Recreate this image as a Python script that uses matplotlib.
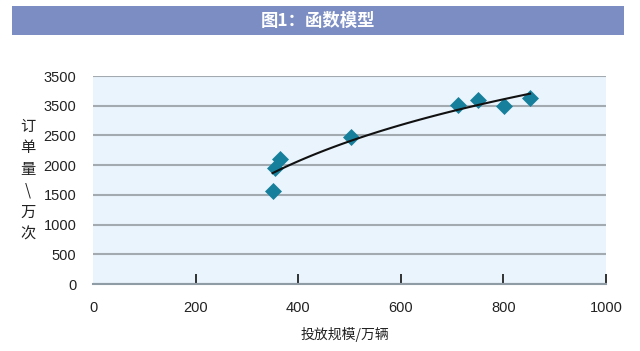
import numpy as np
import matplotlib
matplotlib.use('Agg')
import matplotlib.pyplot as plt
from matplotlib.patches import Rectangle

plt.rcParams['font.family'] = ['Noto Sans CJK SC', 'DejaVu Sans']

# 数据
scale = [350, 355, 364, 503, 712, 751, 801, 852]
orders = [1570, 1950, 2110, 2470, 3010, 3100, 3000, 3135]
y_ticks = [0, 500, 1000, 1500, 2000, 2500, 3000, 3500]
y_tick_labels = ['0', '500', '1000', '1500', '2000', '2500', '3500', '3500']
x_ticks = [0, 200, 400, 600, 800, 1000]

fig = plt.figure(figsize=(6.4, 3.51), dpi=100)

# 标题栏
fig.patches.append(Rectangle((12 / 640, 1 - 35 / 351), 612 / 640, 29 / 351,
                             transform=fig.transFigure, facecolor='#7b8dc3',
                             edgecolor='none'))
fig.text(318 / 640, 1 - 20.5 / 351, '图1：函数模型', color='white', fontsize=12.5,
         fontweight='bold', ha='center', va='center')

ax = fig.add_axes([93 / 640, 1 - 284 / 351, 513 / 640, 208 / 351])
ax.set_facecolor('#e9f4fc')
ax.set_xlim(0, 1000)
ax.set_ylim(0, 3500)

for s in ['top', 'right', 'left']:
    ax.spines[s].set_visible(False)
ax.spines['bottom'].set_color('#8f9ca6')
ax.spines['bottom'].set_linewidth(1.5)

ax.set_yticks(y_ticks)
ax.set_yticklabels(y_tick_labels, family='Liberation Sans', fontsize=10.5, color='#222222')
ax.set_xticks(x_ticks)
ax.set_xticklabels([str(v) for v in x_ticks], family='Liberation Sans', fontsize=10.5,
                   color='#222222')
ax.tick_params(axis='y', length=0, pad=12)
ax.tick_params(axis='x', direction='in', length=7, width=1.3, color='#222222', pad=12)
ax.xaxis.get_major_ticks()[0].tick1line.set_visible(False)

ax.grid(axis='y', color='#a3abb1', linewidth=1.5)
ax.set_axisbelow(True)

# 对数趋势线
a, b = np.polyfit(np.log(scale), orders, 1)
xs = np.linspace(min(scale), max(scale), 100)
ax.plot(xs, a * np.log(xs) + b, color='#111111', linewidth=1.5, zorder=3)

ax.scatter(scale, orders, marker='D', s=75, color='#16809c', zorder=2, linewidths=0)

fig.text(28 / 640, 1 - 180 / 351, '订\n单\n量\n\\\n万\n次', fontsize=11,
         ha='center', va='center', linespacing=1.35, color='#222222')
fig.text(345 / 640, 1 - 335 / 351, '投放规模/万辆', fontsize=10, ha='center',
         va='center', color='#222222')

plt.savefig('out.png', dpi=100)
plt.close()
